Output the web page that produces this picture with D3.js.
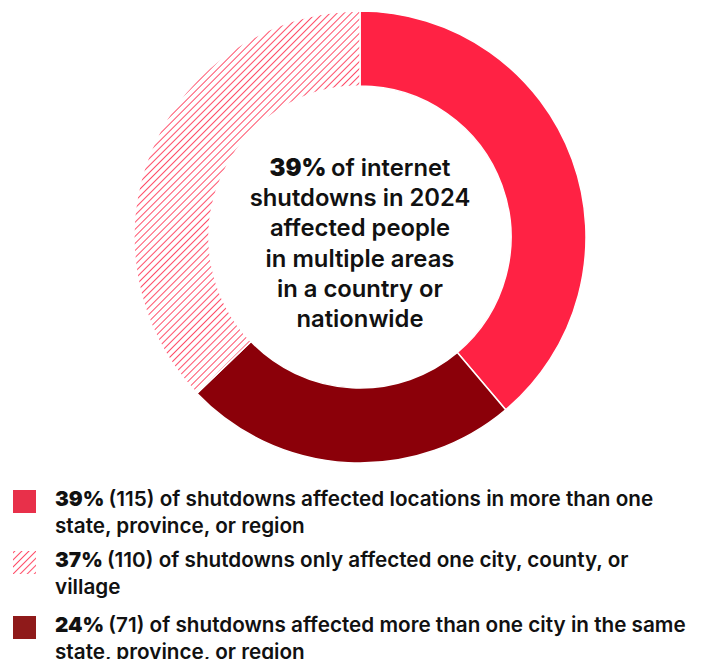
<!DOCTYPE html>
<html>
<head>
<meta charset="utf-8">
<script src="https://cdn.jsdelivr.net/npm/d3@7"></script>
<style>
  body { margin: 0; background: #fff; }
  svg text { font-family: Inter, "Noto Sans", sans-serif; fill: #111; }
</style>
</head>
<body>
<div id="chart"></div>
<script>
var labels = ["multiple", "single", "sameState"];
var counts = [115, 71, 110];           // clockwise from 12 o'clock
var shares = ["39%", "24%", "37%"];
var legendOrder = [0, 2, 1];
var legendLines = [
    ["(115) of shutdowns affected locations in more than one", "state, province, or region"],
    ["(71) of shutdowns affected more than one city in the same", "state, province, or region"],
    ["(110) of shutdowns only affected one city, county, or", "village"]
];
var centerLines = ["of internet", "shutdowns in 2024", "affected people", "in multiple areas", "in a country or", "nationwide"];

var width = 704, height = 659;
var cx = 360, cy = 237, outerR = 226, innerR = 151;

var svg = d3.select("#chart").append("svg")
    .attr("width", width)
    .attr("height", height);

var defs = svg.append("defs");
var pat = defs.append("pattern")
    .attr("id", "hatch")
    .attr("patternUnits", "userSpaceOnUse")
    .attr("width", 5)
    .attr("height", 5)
    .attr("patternTransform", "rotate(45)");
pat.append("rect").attr("width", 5).attr("height", 5).attr("fill", "#fff");
pat.append("line")
    .attr("x1", 0).attr("y1", 0).attr("x2", 0).attr("y2", 5)
    .attr("stroke", "#ff2244").attr("stroke-width", 1.6);

var fills = ["#ff2244", "#8b0009", "url(#hatch)"];
var swatchFills = ["#e8304a", "#8f1a1a", "url(#hatch)"];

var pie = d3.pie().value(function(d) { return d; }).sort(null);
var arc = d3.arc().outerRadius(outerR).innerRadius(innerR);

var g = svg.append("g").attr("transform", "translate(" + cx + "," + cy + ")");
g.selectAll("path").data(pie(counts))
    .enter().append("path")
    .attr("d", arc)
    .attr("fill", function(d, i) { return fills[i]; })
    .attr("stroke", "#fff")
    .attr("stroke-width", 1.5);

// centre label
var ct = svg.append("g");
ct.selectAll("text").data(centerLines)
    .enter().append("text")
    .attr("x", cx)
    .attr("y", function(d, i) { return 176 + i * 30.2; })
    .attr("text-anchor", "middle")
    .style("font-size", "23.8px")
    .style("font-weight", 600)
    .each(function(d, i) {
        var t = d3.select(this);
        if (i === 0) {
            t.append("tspan").style("font-weight", 900).text("39% ");
        }
        t.append("tspan").text(d);
    });

// legend
var rowY = [490, 551, 616];
var rows = svg.selectAll("g.row").data(legendOrder)
    .enter().append("g")
    .attr("class", "row")
    .attr("transform", function(d, i) { return "translate(0," + rowY[i] + ")"; });

rows.append("rect")
    .attr("x", 13).attr("y", 0)
    .attr("width", 23).attr("height", 23)
    .attr("fill", function(d) { return swatchFills[d]; });

rows.each(function(d) {
    var r = d3.select(this);
    legendLines[d].forEach(function(line, j) {
        var t = r.append("text")
            .attr("x", 55)
            .attr("y", 16 + j * 27)
            .style("font-size", "20.7px")
            .style("font-weight", 600);
        if (j === 0) {
            t.append("tspan").style("font-weight", 900).text(shares[d] + " ");
        }
        t.append("tspan").text(line);
    });
});
</script>
</body>
</html>
